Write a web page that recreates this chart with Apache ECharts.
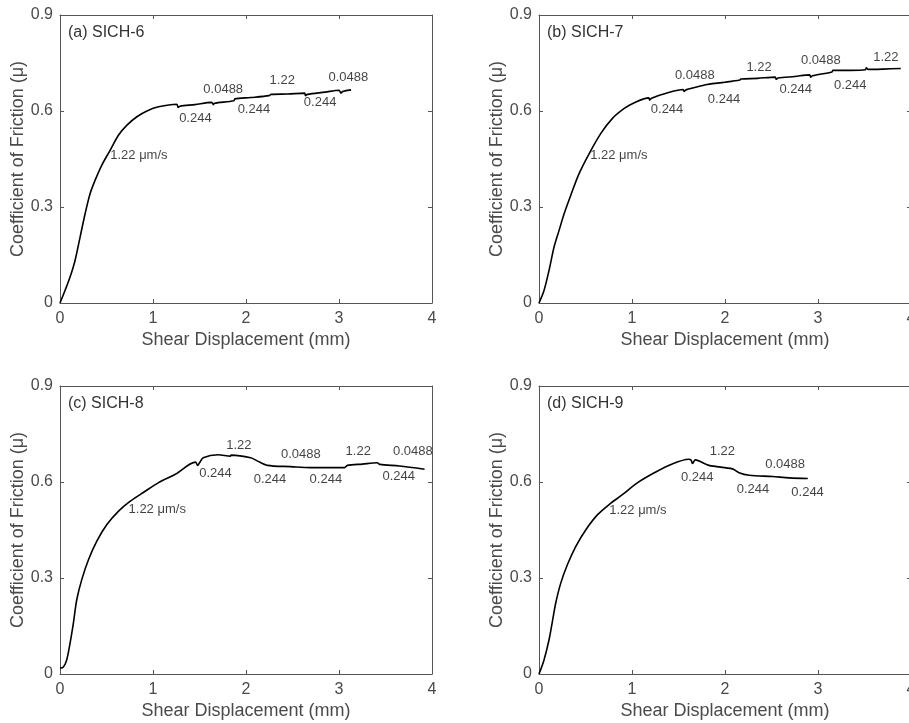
<!DOCTYPE html>
<html>
<head>
<meta charset="utf-8">
<script src="https://cdn.jsdelivr.net/npm/echarts@6/dist/echarts.min.js"></script>
<style>
  html, body { margin: 0; padding: 0; background: #fff; }
  #chart { width: 909px; height: 723px; }
</style>
</head>
<body>
<div id="chart"></div>
<script>
// axis ticks
var dispTicks = [0, 1, 2, 3, 4];
var muTicks = [0, 0.3, 0.6, 0.9];

// (a) SICH-6
var sich6Disp = [0, 0.054, 0.108, 0.162, 0.216, 0.27, 0.324, 0.378, 0.45, 0.54, 0.63, 0.72, 0.827, 0.935, 1.06, 1.256, 1.27, 1.29, 1.45, 1.63, 1.65, 1.66, 1.87, 1.88, 2.05, 2.25, 2.27, 2.45, 2.63, 2.64, 2.66, 2.85, 3.0, 3.02, 3.04, 3.13];
var sich6Mu = [0, 0.039, 0.081, 0.133, 0.206, 0.279, 0.342, 0.384, 0.431, 0.478, 0.525, 0.556, 0.582, 0.6, 0.613, 0.621, 0.611, 0.615, 0.62, 0.627, 0.62, 0.624, 0.632, 0.638, 0.642, 0.648, 0.652, 0.653, 0.656, 0.648, 0.652, 0.659, 0.665, 0.656, 0.661, 0.666];
var sich6NoteText = ['1.22 μm/s', '0.244', '0.0488', '0.244', '1.22', '0.244', '0.0488'];
var sich6NoteX = [0.54, 1.456, 1.755, 2.085, 2.39, 2.797, 3.1];
var sich6NoteY = [0.462, 0.577, 0.668, 0.605, 0.697, 0.626, 0.706];

// (b) SICH-7
var sich7Disp = [0, 0.054, 0.108, 0.162, 0.216, 0.27, 0.342, 0.432, 0.54, 0.665, 0.79, 0.917, 1.025, 1.18, 1.19, 1.21, 1.385, 1.55, 1.56, 1.58, 1.78, 1.83, 2.0, 2.16, 2.17, 2.35, 2.54, 2.55, 2.57, 2.75, 2.91, 2.92, 2.94, 3.15, 3.16, 3.35, 3.51, 3.52, 3.54, 3.7, 3.89];
var sich7Mu = [0, 0.039, 0.102, 0.175, 0.227, 0.279, 0.337, 0.405, 0.467, 0.53, 0.577, 0.608, 0.626, 0.641, 0.634, 0.64, 0.657, 0.667, 0.661, 0.666, 0.681, 0.684, 0.69, 0.697, 0.7, 0.702, 0.706, 0.699, 0.703, 0.708, 0.713, 0.706, 0.71, 0.722, 0.727, 0.727, 0.729, 0.735, 0.73, 0.731, 0.733];
var sich7NoteText = ['1.22 μm/s', '0.244', '0.0488', '0.244', '1.22', '0.244', '0.0488', '0.244', '1.22'];
var sich7NoteX = [0.55, 1.377, 1.675, 1.99, 2.366, 2.76, 3.03, 3.347, 3.73];
var sich7NoteY = [0.462, 0.605, 0.71, 0.637, 0.736, 0.668, 0.757, 0.681, 0.767];

// (c) SICH-8
var sich8Disp = [0, 0.036, 0.072, 0.108, 0.144, 0.18, 0.234, 0.306, 0.396, 0.504, 0.63, 0.756, 0.9, 1.06, 1.24, 1.457, 1.48, 1.5, 1.54, 1.7, 1.834, 1.84, 2.05, 2.12, 2.23, 2.48, 2.696, 3.06, 3.09, 3.25, 3.41, 3.44, 3.65, 3.92];
var sich8Mu = [0.018, 0.022, 0.044, 0.096, 0.159, 0.232, 0.295, 0.357, 0.415, 0.467, 0.509, 0.54, 0.568, 0.598, 0.624, 0.662, 0.652, 0.66, 0.676, 0.685, 0.681, 0.684, 0.676, 0.666, 0.652, 0.648, 0.645, 0.645, 0.652, 0.656, 0.66, 0.655, 0.65, 0.64];
var sich8NoteText = ['1.22 μm/s', '0.244', '1.22', '0.244', '0.0488', '0.244', '1.22', '0.244', '0.0488'];
var sich8NoteX = [0.737, 1.672, 1.924, 2.258, 2.589, 2.859, 3.207, 3.643, 3.794];
var sich8NoteY = [0.514, 0.626, 0.715, 0.608, 0.686, 0.608, 0.697, 0.617, 0.696];

// (d) SICH-9
var sich9Disp = [0, 0.054, 0.108, 0.144, 0.18, 0.234, 0.306, 0.396, 0.504, 0.63, 0.756, 0.9, 1.06, 1.24, 1.42, 1.61, 1.636, 1.65, 1.68, 1.827, 2.08, 2.15, 2.26, 2.51, 2.69, 2.89];
var sich9Mu = [0, 0.044, 0.107, 0.164, 0.222, 0.284, 0.342, 0.399, 0.451, 0.498, 0.53, 0.561, 0.598, 0.629, 0.655, 0.671, 0.668, 0.658, 0.669, 0.652, 0.641, 0.629, 0.621, 0.617, 0.613, 0.611];
var sich9NoteText = ['1.22 μm/s', '0.244', '1.22', '0.244', '0.0488', '0.244'];
var sich9NoteX = [0.755, 1.701, 1.971, 2.301, 2.646, 2.888];
var sich9NoteY = [0.512, 0.615, 0.695, 0.577, 0.655, 0.566];

var panels = [
    {title: '(a) SICH-6', disp: sich6Disp, mu: sich6Mu, noteText: sich6NoteText, noteX: sich6NoteX, noteY: sich6NoteY, left: 60, top: 15},
    {title: '(b) SICH-7', disp: sich7Disp, mu: sich7Mu, noteText: sich7NoteText, noteX: sich7NoteX, noteY: sich7NoteY, left: 539, top: 15},
    {title: '(c) SICH-8', disp: sich8Disp, mu: sich8Mu, noteText: sich8NoteText, noteX: sich8NoteX, noteY: sich8NoteY, left: 60, top: 386},
    {title: '(d) SICH-9', disp: sich9Disp, mu: sich9Mu, noteText: sich9NoteText, noteX: sich9NoteX, noteY: sich9NoteY, left: 539, top: 386}
];

var axisColor = '#555';
var textColor = '#4a4a4a';
var fontFamily = 'Arial, "Liberation Sans", sans-serif';

var chart = echarts.init(document.getElementById('chart'));
var option = {
    backgroundColor: '#fff',
    animation: false,
    title: [],
    grid: [],
    xAxis: [],
    yAxis: [],
    series: []
};

panels.forEach(function (p, i) {
    option.title.push({
        text: p.title,
        left: p.left + 8,
        top: p.top + 10,
        padding: 0,
        textStyle: {fontSize: 16, fontWeight: 'normal', color: '#333', fontFamily: fontFamily}
    });
    // right-hand panels run slightly past the window edge, as in the original figure
    option.grid.push({left: p.left, top: p.top, width: 372, height: 288, outerBoundsMode: 'none', containLabel: false});

    // bottom and top x axes
    option.xAxis.push({
        gridIndex: i, type: 'value', min: dispTicks[0], max: dispTicks[dispTicks.length - 1], interval: 1,
        name: 'Shear Displacement (mm)', nameLocation: 'middle', nameGap: 28,
        nameTextStyle: {fontSize: 18, color: textColor, fontFamily: fontFamily},
        axisLine: {onZero: false, lineStyle: {color: axisColor, width: 1}},
        axisTick: {inside: true, length: 4, lineStyle: {color: axisColor}},
        axisLabel: {fontSize: 16, color: textColor, margin: 8, fontFamily: fontFamily},
        splitLine: {show: false}
    });
    option.xAxis.push({
        gridIndex: i, type: 'value', position: 'top', min: 0, max: 4, interval: 1,
        axisLine: {onZero: false, lineStyle: {color: axisColor, width: 1}},
        axisTick: {inside: true, length: 4, lineStyle: {color: axisColor}},
        axisLabel: {show: false},
        splitLine: {show: false}
    });
    // left and right y axes
    option.yAxis.push({
        gridIndex: i, type: 'value', min: muTicks[0], max: muTicks[muTicks.length - 1], interval: 0.3,
        name: 'Coefficient of Friction (μ)', nameLocation: 'middle', nameGap: 33,
        nameTextStyle: {fontSize: 18, color: textColor, fontFamily: fontFamily},
        axisLine: {show: true, onZero: false, lineStyle: {color: axisColor, width: 1}},
        axisTick: {show: true, inside: true, length: 4, lineStyle: {color: axisColor}},
        axisLabel: {fontSize: 16, color: textColor, margin: 7, fontFamily: fontFamily,
            formatter: function (v) { return String(Math.round(v * 10) / 10); }},
        splitLine: {show: false}
    });
    option.yAxis.push({
        gridIndex: i, type: 'value', position: 'right', min: 0, max: 0.9, interval: 0.3,
        axisLine: {show: true, onZero: false, lineStyle: {color: axisColor, width: 1}},
        axisTick: {show: true, inside: true, length: 4, lineStyle: {color: axisColor}},
        axisLabel: {show: false},
        splitLine: {show: false}
    });

    option.series.push({
        type: 'line',
        xAxisIndex: i * 2,
        yAxisIndex: i * 2,
        data: p.disp.map(function (x, k) { return [x, p.mu[k]]; }),
        showSymbol: false,
        smooth: 0.3,
        lineStyle: {color: '#000', width: 1.6},
        z: 3
    });

    option.series.push({
        type: 'scatter',
        xAxisIndex: i * 2,
        yAxisIndex: i * 2,
        symbolSize: 0,
        silent: true,
        data: p.noteText.map(function (t, k) {
            return {
                value: [p.noteX[k], p.noteY[k]],
                name: t,
                // the first note is the starting velocity, written to the right of its anchor
                label: {align: k === 0 ? 'left' : 'center'}
            };
        }),
        label: {
            show: true,
            position: 'inside',
            formatter: '{b}',
            fontSize: 13,
            color: '#111',
            fontFamily: fontFamily
        },
        z: 4
    });
});

chart.setOption(option);
</script>
</body>
</html>
